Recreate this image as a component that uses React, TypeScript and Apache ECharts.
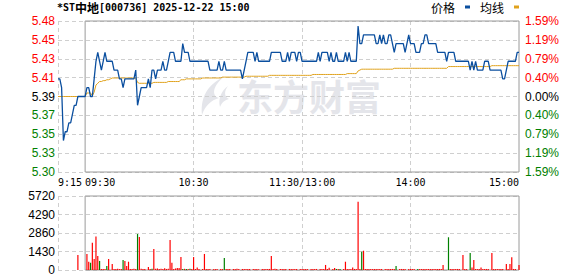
import React, { useEffect, useRef } from 'react';
import * as echarts from 'echarts';

// ---- Text ----
const STOCK_PREFIX = '*ST';
const STOCK_NAME = '中地';
const STOCK_SUFFIX = '[000736] 2025-12-22 15:00';
const LEGEND_NAMES = ['价格', '均线'];
const WATERMARK = '东方财富';

// ---- Axis ticks ----
const PRICE_MIN = 5.304299;
const PRICE_MAX = 5.475701;
const PRICE_TICK_LABELS = ['5.30', '5.33', '5.35', '5.37', '5.39', '5.41', '5.43', '5.45', '5.48'];
const PCT_TICK_LABELS = ['1.59%', '1.19%', '0.79%', '0.40%', '0.00%', '0.40%', '0.79%', '1.19%', '1.59%'];
const VOL_MAX = 5720;
const VOL_INTERVAL = 1430;
const X_LABEL_TIMES = ['09:15', '09:30', '10:30', '11:30', '14:00', '15:00'];
const X_LABEL_TEXTS = ['9:15', '09:30', '10:30', '11:30/13:00', '14:00', '15:00'];
const X_SPLIT_TIMES = ['09:15', '10:30', '11:30', '14:00'];

// ---- Pre-market 9:15..9:29 ----
const PRE_PRICE = [5.41, 5.41, 5.40, 5.34, 5.35, 5.35, 5.36, 5.36, 5.37, 5.38, 5.38, 5.39, 5.39, 5.39, 5.39];
const PRE_AVG = [5.39, 5.39, 5.39, 5.39, 5.39, 5.39, 5.39, 5.39, 5.39, 5.39, 5.39, 5.39, 5.39, 5.39, 5.39];
const PRE_VOLUME = [0, 0, 0, 0, 0, 0, 0, 0, 0, 0, 0, 1160, 0, 0, 0];

// ---- Session 9:30..11:30, 13:01..15:00 (241 minutes) ----
const PRICE = [
  5.39, 5.40, 5.40, 5.39, 5.39, 5.41, 5.43, 5.44, 5.43, 5.42,
  5.43, 5.44, 5.43, 5.43, 5.43, 5.43, 5.42, 5.42, 5.42, 5.41,
  5.41, 5.40, 5.41, 5.41, 5.41, 5.41, 5.41, 5.41, 5.42, 5.38,
  5.39, 5.40, 5.40, 5.40, 5.40, 5.41, 5.40, 5.42, 5.42, 5.41,
  5.42, 5.42, 5.42, 5.43, 5.42, 5.42, 5.43, 5.44, 5.44, 5.44,
  5.43, 5.43, 5.43, 5.43, 5.45, 5.44, 5.44, 5.44, 5.43, 5.43,
  5.43, 5.43, 5.43, 5.43, 5.43, 5.43, 5.43, 5.43, 5.43, 5.42,
  5.42, 5.42, 5.42, 5.42, 5.43, 5.42, 5.42, 5.43, 5.42, 5.42,
  5.42, 5.42, 5.42, 5.42, 5.42, 5.42, 5.42, 5.41, 5.42, 5.43,
  5.44, 5.44, 5.44, 5.44, 5.43, 5.44, 5.43, 5.43, 5.43, 5.43,
  5.43, 5.43, 5.43, 5.44, 5.44, 5.44, 5.44, 5.44, 5.44, 5.43,
  5.43, 5.43, 5.44, 5.43, 5.44, 5.44, 5.44, 5.43, 5.44, 5.44,
  5.43, 5.43, 5.43, 5.43, 5.43, 5.43, 5.43, 5.43, 5.43, 5.44,
  5.43, 5.44, 5.44, 5.44, 5.44, 5.43, 5.44, 5.43, 5.43, 5.44,
  5.43, 5.43, 5.43, 5.43, 5.44, 5.43, 5.44, 5.43, 5.43, 5.43,
  5.43, 5.47, 5.45, 5.45, 5.46, 5.46, 5.46, 5.46, 5.46, 5.46,
  5.46, 5.45, 5.45, 5.46, 5.45, 5.46, 5.45, 5.45, 5.46, 5.46,
  5.45, 5.44, 5.45, 5.45, 5.45, 5.45, 5.45, 5.44, 5.45, 5.46,
  5.45, 5.45, 5.45, 5.44, 5.44, 5.44, 5.45, 5.45, 5.46, 5.46,
  5.45, 5.45, 5.45, 5.45, 5.45, 5.44, 5.44, 5.44, 5.44, 5.44,
  5.43, 5.44, 5.44, 5.44, 5.44, 5.43, 5.43, 5.43, 5.43, 5.43,
  5.43, 5.43, 5.43, 5.42, 5.43, 5.42, 5.43, 5.42, 5.42, 5.42,
  5.42, 5.43, 5.43, 5.43, 5.42, 5.42, 5.42, 5.42, 5.42, 5.42,
  5.42, 5.41, 5.41, 5.42, 5.43, 5.43, 5.43, 5.43, 5.43, 5.44,
  5.44,
];

const AVG = [
  5.390, 5.394, 5.394, 5.394, 5.391, 5.395, 5.403, 5.405, 5.407, 5.407,
  5.408, 5.408, 5.409, 5.409, 5.410, 5.411, 5.411, 5.411, 5.411, 5.411,
  5.411, 5.411, 5.411, 5.411, 5.411, 5.411, 5.411, 5.411, 5.411, 5.406,
  5.405, 5.405, 5.405, 5.405, 5.405, 5.405, 5.405, 5.405, 5.406, 5.406,
  5.406, 5.406, 5.406, 5.406, 5.406, 5.406, 5.407, 5.407, 5.407, 5.407,
  5.407, 5.407, 5.407, 5.409, 5.409, 5.409, 5.410, 5.410, 5.410, 5.410,
  5.410, 5.410, 5.410, 5.410, 5.410, 5.411, 5.411, 5.411, 5.411, 5.411,
  5.411, 5.411, 5.411, 5.411, 5.411, 5.411, 5.412, 5.412, 5.412, 5.412,
  5.412, 5.412, 5.412, 5.412, 5.412, 5.412, 5.412, 5.412, 5.412, 5.413,
  5.413, 5.413, 5.413, 5.413, 5.413, 5.413, 5.413, 5.413, 5.413, 5.413,
  5.413, 5.413, 5.414, 5.414, 5.414, 5.414, 5.414, 5.414, 5.414, 5.414,
  5.414, 5.414, 5.414, 5.414, 5.414, 5.414, 5.414, 5.414, 5.414, 5.414,
  5.414, 5.414, 5.414, 5.414, 5.414, 5.414, 5.415, 5.415, 5.415, 5.415,
  5.415, 5.415, 5.415, 5.415, 5.415, 5.415, 5.415, 5.415, 5.415, 5.415,
  5.415, 5.415, 5.415, 5.415, 5.415, 5.416, 5.416, 5.416, 5.416, 5.416,
  5.416, 5.419, 5.420, 5.421, 5.421, 5.421, 5.421, 5.421, 5.421, 5.421,
  5.421, 5.421, 5.421, 5.421, 5.421, 5.421, 5.421, 5.421, 5.421, 5.421,
  5.421, 5.422, 5.422, 5.422, 5.422, 5.422, 5.422, 5.422, 5.422, 5.422,
  5.422, 5.422, 5.422, 5.422, 5.422, 5.422, 5.422, 5.422, 5.422, 5.422,
  5.422, 5.422, 5.422, 5.422, 5.422, 5.422, 5.422, 5.422, 5.422, 5.422,
  5.422, 5.424, 5.424, 5.424, 5.424, 5.424, 5.424, 5.424, 5.424, 5.424,
  5.424, 5.424, 5.424, 5.424, 5.424, 5.424, 5.424, 5.424, 5.424, 5.424,
  5.424, 5.424, 5.424, 5.424, 5.424, 5.425, 5.425, 5.425, 5.425, 5.425,
  5.425, 5.425, 5.425, 5.425, 5.425, 5.425, 5.425, 5.425, 5.425, 5.425,
  5.425,
];

const VOLUME = [
  0, 1240, 640, 560, 2110, 850, 2580, 1080, 700, 80,
  70, 80, 310, 850, 0, 460, 80, 70, 90, 70,
  80, 770, 700, 310, 640, 80, 70, 90, 80, 2780,
  2550, 90, 80, 70, 0, 230, 80, 90, 1620, 100,
  120, 80, 90, 70, 130, 80, 90, 2320, 560, 80,
  120, 150, 150, 1000, 80, 90, 70, 80, 90, 70,
  1000, 80, 200, 80, 0, 70, 1240, 80, 70, 80,
  0, 60, 80, 70, 0, 80, 70, 930, 80, 70,
  80, 0, 70, 80, 90, 70, 0, 80, 70, 80,
  80, 70, 0, 80, 70, 80, 60, 0, 80, 70,
  80, 70, 80, 1080, 80, 90, 70, 0, 80, 70,
  80, 70, 0, 80, 70, 80, 80, 70, 0, 80,
  80, 70, 80, 70, 0, 80, 80, 70, 80, 0,
  80, 70, 80, 390, 70, 180, 0, 80, 150, 80,
  80, 70, 0, 80, 640, 80, 70, 80, 200, 80,
  70, 5280, 80, 1420, 1490, 80, 80, 70, 80, 70,
  80, 70, 80, 70, 80, 0, 80, 70, 80, 70,
  80, 70, 310, 0, 70, 80, 70, 80, 0, 80,
  80, 70, 80, 0, 80, 70, 80, 70, 80, 70,
  80, 70, 80, 70, 80, 70, 80, 70, 390, 0,
  0, 2530, 80, 70, 80, 70, 80, 70, 0, 1160,
  80, 70, 0, 1310, 200, 770, 80, 70, 80, 200,
  80, 70, 80, 70, 0, 1310, 80, 70, 80, 70,
  80, 70, 0, 460, 70, 460, 980, 80, 70, 0,
  390,
];
// session minutes whose volume bar is green (price fell)
const DOWN_MINUTES = [3, 8, 12, 21, 29, 37, 54, 56, 58, 77, 139, 141, 153, 172, 184, 201, 213];

const RED = '#ff0000';
const GREEN = '#008000';
const PRICE_COLOR = '#0b4f9f';
const AVG_COLOR = '#e0a21c';
const GRID_LINE = '#cfcfcf';
const BOX_LINE = '#9a9a9a';
const NUM_FONT = '"Liberation Sans", Arial, sans-serif';
const MONO_FONT = '"DejaVu Sans Mono", "Liberation Mono", monospace';
const CJK_FONT = '"Noto Sans CJK SC", sans-serif';

const LOGO_D =
  'M27 0 C13 6 3 18 5 38 C8 29 14 23 22 21 C14 19 16 8 27 0 Z M31 9 C24 14 21 22 23 30 C25 25 28 23 32 22 C27 20 27 14 31 9 Z';
let logoRegistered = false;
function ensureLogo() {
  if (logoRegistered) return;
  echarts.graphic.registerShape('emlogo', echarts.graphic.extendPath(LOGO_D, {}));
  logoRegistered = true;
}

function buildTimes(): string[] {
  const out: string[] = [];
  const pad = (n: number) => (n < 10 ? '0' + n : '' + n);
  const push = (from: number, to: number) => {
    for (let t = from; t <= to; t++) out.push(pad(Math.floor(t / 60)) + ':' + pad(t % 60));
  };
  push(9 * 60 + 15, 11 * 60 + 30);
  push(13 * 60 + 1, 15 * 60);
  return out;
}

export default function App() {
  const ref = useRef<HTMLDivElement>(null);

  useEffect(() => {
    if (!ref.current) return;
    ensureLogo();
    const chart = echarts.init(ref.current, undefined, { renderer: 'svg' });
    const times = buildTimes();
    const preLen = PRE_PRICE.length;
    const allPrice = [...PRE_PRICE, ...PRICE];
    const allAvg = [...PRE_AVG, ...AVG];
    const allVol = [...PRE_VOLUME, ...VOLUME].map((v, i) => ({
      value: v,
      itemStyle: { color: i >= preLen && DOWN_MINUTES.includes(i - preLen) ? GREEN : RED },
    }));
    const labelIdx = X_LABEL_TIMES.map((t) => times.indexOf(t));
    const splitIdx = X_SPLIT_TIMES.map((t) => times.indexOf(t));

    const xLabelFormatter = (_v: string, i: number) => {
      const k = labelIdx.indexOf(i);
      if (k < 0) return '';
      const txt = X_LABEL_TEXTS[k];
      if (k === 0) return '{f|' + txt + '}';
      if (k === 1) return '{s|' + txt + '}';
      if (k === X_LABEL_TEXTS.length - 1) return '{e|' + txt + '}';
      return '{m|' + txt + '}';
    };
    const mono = { fontFamily: MONO_FONT, fontSize: 10, color: '#000' };

    const dashed = { show: true, lineStyle: { color: GRID_LINE, type: [4, 3], width: 1 } };
    const tickColor = (v: any) => {
      const n = Number(v);
      return n > 4 ? RED : n < 4 ? GREEN : '#000';
    };
    const boxStyle = { color: 'rgba(0,0,0,0)', borderColor: BOX_LINE, borderWidth: 1 };

    chart.setOption({
      animation: false,
      title: {
        text: '{a|' + STOCK_PREFIX + '}{c|' + STOCK_NAME + '}{a|' + STOCK_SUFFIX + '}',
        left: 57,
        top: 1,
        padding: 0,
        textStyle: {
          rich: {
            a: { fontFamily: MONO_FONT, fontSize: 10, color: '#000' },
            c: { fontFamily: CJK_FONT, fontSize: 12, color: '#000' },
          },
        },
      },
      legend: {
        data: LEGEND_NAMES,
        left: 431,
        top: 1,
        padding: 0,
        align: 'right',
        icon: 'rect',
        itemWidth: 5,
        itemHeight: 3,
        itemGap: 10,
        selectedMode: false,
        textStyle: { fontFamily: CJK_FONT, fontSize: 12, color: '#000', padding: [0, 5, 10, 0] },
      },
      grid: [
        { left: 58, right: 59, top: 21, height: 151 },
        { left: 58, right: 59, top: 196, height: 74 },
      ],
      xAxis: [
        {
          type: 'category',
          gridIndex: 0,
          data: times,
          boundaryGap: false,
          axisLine: { show: false },
          axisTick: { show: false },
          axisLabel: {
            interval: (i: number) => labelIdx.includes(i),
            formatter: xLabelFormatter,
            margin: 5,
            ...mono,
            rich: {
              f: { ...mono, padding: [0, 0, 0, 24] },
              s: { ...mono, padding: [0, 0, 0, 30] },
              m: { ...mono },
              e: { ...mono, padding: [0, 30, 0, 0] },
            },
          },
          splitLine: { ...dashed, interval: (i: number) => splitIdx.includes(i) },
        },
        {
          type: 'category',
          gridIndex: 1,
          data: times,
          boundaryGap: false,
          axisLine: { show: false },
          axisTick: { show: false },
          axisLabel: { show: false },
          splitLine: { ...dashed, interval: (i: number) => splitIdx.includes(i) },
        },
      ],
      yAxis: [
        {
          type: 'value',
          gridIndex: 0,
          position: 'left',
          min: 0,
          max: PRICE_TICK_LABELS.length - 1,
          interval: 1,
          axisLine: { show: false },
          axisTick: { show: false },
          axisLabel: {
            margin: 3,
            fontFamily: NUM_FONT,
            fontSize: 12,
            color: tickColor,
            formatter: (v: number) => PRICE_TICK_LABELS[Math.round(v)],
          },
          splitLine: dashed,
        },
        {
          type: 'value',
          gridIndex: 0,
          position: 'right',
          min: 0,
          max: PCT_TICK_LABELS.length - 1,
          interval: 1,
          axisLine: { show: false },
          axisTick: { show: false },
          axisLabel: {
            margin: 6,
            fontFamily: NUM_FONT,
            fontSize: 12,
            color: tickColor,
            formatter: (v: number) => PCT_TICK_LABELS[Math.round(v)],
          },
          splitLine: { show: false },
        },
        {
          type: 'value',
          gridIndex: 0,
          min: PRICE_MIN,
          max: PRICE_MAX,
          show: false,
          splitLine: { show: false },
        },
        {
          type: 'value',
          gridIndex: 1,
          min: 0,
          max: VOL_MAX,
          interval: VOL_INTERVAL,
          axisLine: { show: false },
          axisTick: { show: false },
          axisLabel: {
            margin: 3,
            fontFamily: NUM_FONT,
            fontSize: 12,
            color: '#000',
            formatter: (v: number) => String(Math.round(v)),
          },
          splitLine: dashed,
        },
      ],
      graphic: [
        {
          type: 'text',
          left: 237,
          top: 77,
          silent: true,
          z: 0,
          style: {
            text: WATERMARK,
            fontFamily: CJK_FONT,
            fontWeight: 'bold',
            fontSize: 36,
            fill: '#e4e5ea',
          },
        },
        {
          type: 'emlogo',
          x: 197,
          y: 77,
          scaleX: 1,
          scaleY: 1,
          silent: true,
          z: 0,
          style: { fill: '#e4e5ea' },
        },
      ],
      series: [
        {
          name: LEGEND_NAMES[1],
          type: 'line',
          xAxisIndex: 0,
          yAxisIndex: 2,
          data: allAvg,
          showSymbol: false,
          symbol: 'none',
          lineStyle: { color: AVG_COLOR, width: 1 },
          itemStyle: { color: AVG_COLOR },
          z: 3,
        },
        {
          name: LEGEND_NAMES[0],
          type: 'line',
          xAxisIndex: 0,
          yAxisIndex: 2,
          data: allPrice,
          showSymbol: false,
          symbol: 'none',
          lineStyle: { color: PRICE_COLOR, width: 1.3 },
          itemStyle: { color: PRICE_COLOR },
          z: 4,
          markArea: {
            silent: true,
            itemStyle: boxStyle,
            data: [[{ xAxis: '09:30', yAxis: PRICE_MIN }, { xAxis: '15:00', yAxis: PRICE_MAX }]],
          },
        },
        {
          name: '成交量',
          type: 'bar',
          xAxisIndex: 1,
          yAxisIndex: 3,
          barWidth: 1.2,
          data: allVol,
        },
        {
          name: 'volBox',
          type: 'line',
          xAxisIndex: 1,
          yAxisIndex: 3,
          data: [],
          showSymbol: false,
          silent: true,
          z: 5,
          markArea: {
            silent: true,
            itemStyle: boxStyle,
            data: [[{ xAxis: '09:30', yAxis: 0 }, { xAxis: '15:00', yAxis: VOL_MAX }]],
          },
        },
      ],
    });
    return () => chart.dispose();
  }, []);

  return (
    <div
      ref={ref}
      style={{ position: 'fixed', left: 0, top: 0, width: 578, height: 276, background: '#fff' }}
    />
  );
}
